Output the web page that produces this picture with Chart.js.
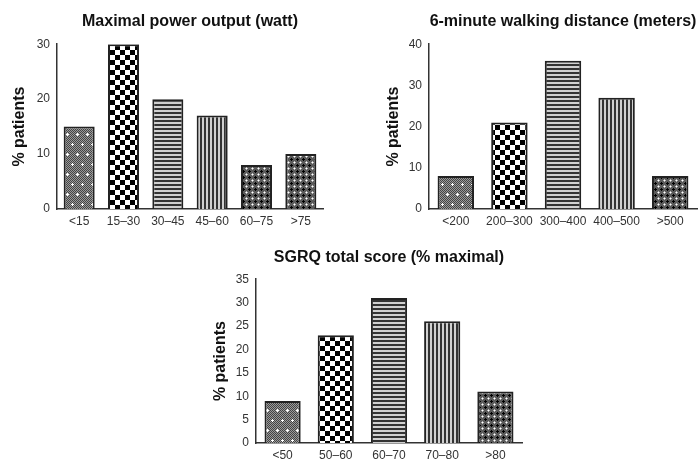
<!DOCTYPE html>
<html>
<head>
<meta charset="utf-8">
<script src="https://cdn.jsdelivr.net/npm/chart.js@4/dist/chart.umd.min.js"></script>
<style>
  html, body { margin: 0; padding: 0; background: #fff; }
  body { width: 698px; height: 462px; position: relative; overflow: hidden; }
  .box { position: absolute; }
</style>
</head>
<body>
<div class="box" style="left:0px;top:0px;"><canvas id="c1" width="340" height="232"></canvas></div>
<div class="box" style="left:370px;top:0px;"><canvas id="c2" width="328" height="232"></canvas></div>
<div class="box" style="left:200px;top:236px;"><canvas id="c3" width="340" height="226"></canvas></div>
<script>
// ---- Data ----
const powerTitle = 'Maximal power output (watt)';
const powerLabels = ['<15', '15–30', '30–45', '45–60', '60–75', '>75'];
const powerValues = [15, 30, 20, 17, 8, 10];
const powerTicks = [0, 10, 20, 30];

const walkTitle = '6-minute walking distance (meters)';
const walkLabels = ['<200', '200–300', '300–400', '400–500', '>500'];
const walkValues = [8, 21, 36, 27, 8];
const walkTicks = [0, 10, 20, 30, 40];

const sgrqTitle = 'SGRQ total score (% maximal)';
const sgrqLabels = ['<50', '50–60', '60–70', '70–80', '>80'];
const sgrqValues = [9, 23, 31, 26, 11];
const sgrqTicks = [0, 5, 10, 15, 20, 25, 30, 35];

const yAxisTitle = '% patients';

// ---- Patterns ----
function makePattern(w, h, draw) {
  const c = document.createElement('canvas');
  c.width = w; c.height = h;
  const g = c.getContext('2d');
  draw(g);
  return g.createPattern(c, 'repeat');
}
function px(g, x, y, col) { g.fillStyle = col; g.fillRect(x, y, 1, 1); }

const patDots = makePattern(10, 20, g => {
  g.fillStyle = '#9a9a9a'; g.fillRect(0, 0, 10, 20);
  for (let y = 0; y < 20; y++) for (let x = 0; x < 10; x++) if ((x + y) % 2 === 0) px(g, x, y, '#444444');
  const plus = (cx, cy) => { [[0,0],[1,0],[-1,0],[0,1],[0,-1]].forEach(d => px(g, cx + d[0], cy + d[1], '#ffffff')); };
  plus(2, 4); plus(7, 14);
});
const patChecker = makePattern(10, 10, g => {
  g.fillStyle = '#ffffff'; g.fillRect(0, 0, 10, 10);
  g.fillStyle = '#000000'; g.fillRect(0, 0, 5, 5); g.fillRect(5, 5, 5, 5);
});
const patHoriz = makePattern(4, 4, g => {
  g.fillStyle = '#d0d0d0'; g.fillRect(0, 0, 4, 4);
  g.fillStyle = '#333333'; g.fillRect(0, 0, 4, 2);
});
const patVert = makePattern(4, 4, g => {
  g.fillStyle = '#d0d0d0'; g.fillRect(0, 0, 4, 4);
  g.fillStyle = '#333333'; g.fillRect(0, 0, 2, 4);
});
const patLattice = makePattern(6, 6, g => {
  g.fillStyle = '#5a5a5a'; g.fillRect(0, 0, 6, 6);
  [[3,2],[2,3],[3,3],[4,3],[3,4]].forEach(p => px(g, p[0], p[1], '#000000'));
  px(g, 0, 0, '#ffffff'); px(g, 1, 0, '#bbbbbb'); px(g, 0, 1, '#bbbbbb'); px(g, 5, 0, '#bbbbbb'); px(g, 0, 5, '#bbbbbb');
});

const powerPatterns = [patDots, patChecker, patHoriz, patVert, patLattice, patLattice];
const walkPatterns = [patDots, patChecker, patHoriz, patVert, patLattice];
const sgrqPatterns = [patDots, patChecker, patHoriz, patVert, patLattice];

const FONT = "'Liberation Sans', Arial, sans-serif";
Chart.defaults.font.family = FONT;
Chart.defaults.color = '#333';

function makeChart(id, title, labels, values, patterns, ticks, cfg) {
  const step = ticks[1] - ticks[0];
  return new Chart(document.getElementById(id), {
    type: 'bar',
    data: {
      labels: labels,
      datasets: [{
        data: values,
        backgroundColor: patterns,
        borderColor: '#222',
        borderWidth: 2,
        barPercentage: cfg.barPct,
        categoryPercentage: 1.0
      }]
    },
    options: {
      responsive: false,
      devicePixelRatio: 1,
      animation: false,
      layout: { padding: { left: 0, right: cfg.padRight, top: 0, bottom: 0 } },
      plugins: {
        legend: { display: false },
        tooltip: { enabled: false },
        title: {
          display: true,
          text: title,
          fullSize: false,
          color: '#111',
          font: { size: 16, weight: 'bold', family: FONT },
          padding: { top: cfg.titleTop, bottom: cfg.titleBottom }
        }
      },
      scales: {
        x: {
          grid: { display: false, drawTicks: false },
          border: { display: true, color: '#333', width: 1.5 },
          ticks: { color: '#333', font: { size: 12, family: FONT }, padding: 5, maxRotation: 0, autoSkip: false },
          afterFit: s => { s.height = cfg.xHeight; }
        },
        y: {
          min: ticks[0],
          max: ticks[ticks.length - 1],
          grid: { display: false, drawTicks: false },
          border: { display: true, color: '#333', width: 1.5 },
          ticks: { stepSize: step, color: '#333', font: { size: 12, family: FONT }, padding: 7 },
          title: {
            display: true,
            text: yAxisTitle,
            color: '#111',
            font: { size: 16, weight: 'bold', family: FONT },
            padding: { top: cfg.yTitlePad, bottom: 0 }
          },
          afterFit: s => { s.width = cfg.yWidth; }
        }
      }
    }
  });
}

makeChart('c1', powerTitle, powerLabels, powerValues, powerPatterns, powerTicks,
  { barPct: 0.7, padRight: 17, titleTop: 12, titleBottom: 13, xHeight: 23, yWidth: 57, yTitlePad: 9.5 });
makeChart('c2', walkTitle, walkLabels, walkValues, walkPatterns, walkTicks,
  { barPct: 0.68, padRight: 1, titleTop: 12, titleBottom: 13, xHeight: 23, yWidth: 59, yTitlePad: 13.5 });
makeChart('c3', sgrqTitle, sgrqLabels, sgrqValues, sgrqPatterns, sgrqTicks,
  { barPct: 0.68, padRight: 18, titleTop: 12, titleBottom: 12, xHeight: 19, yWidth: 56, yTitlePad: 10.5 });
</script>
</body>
</html>
